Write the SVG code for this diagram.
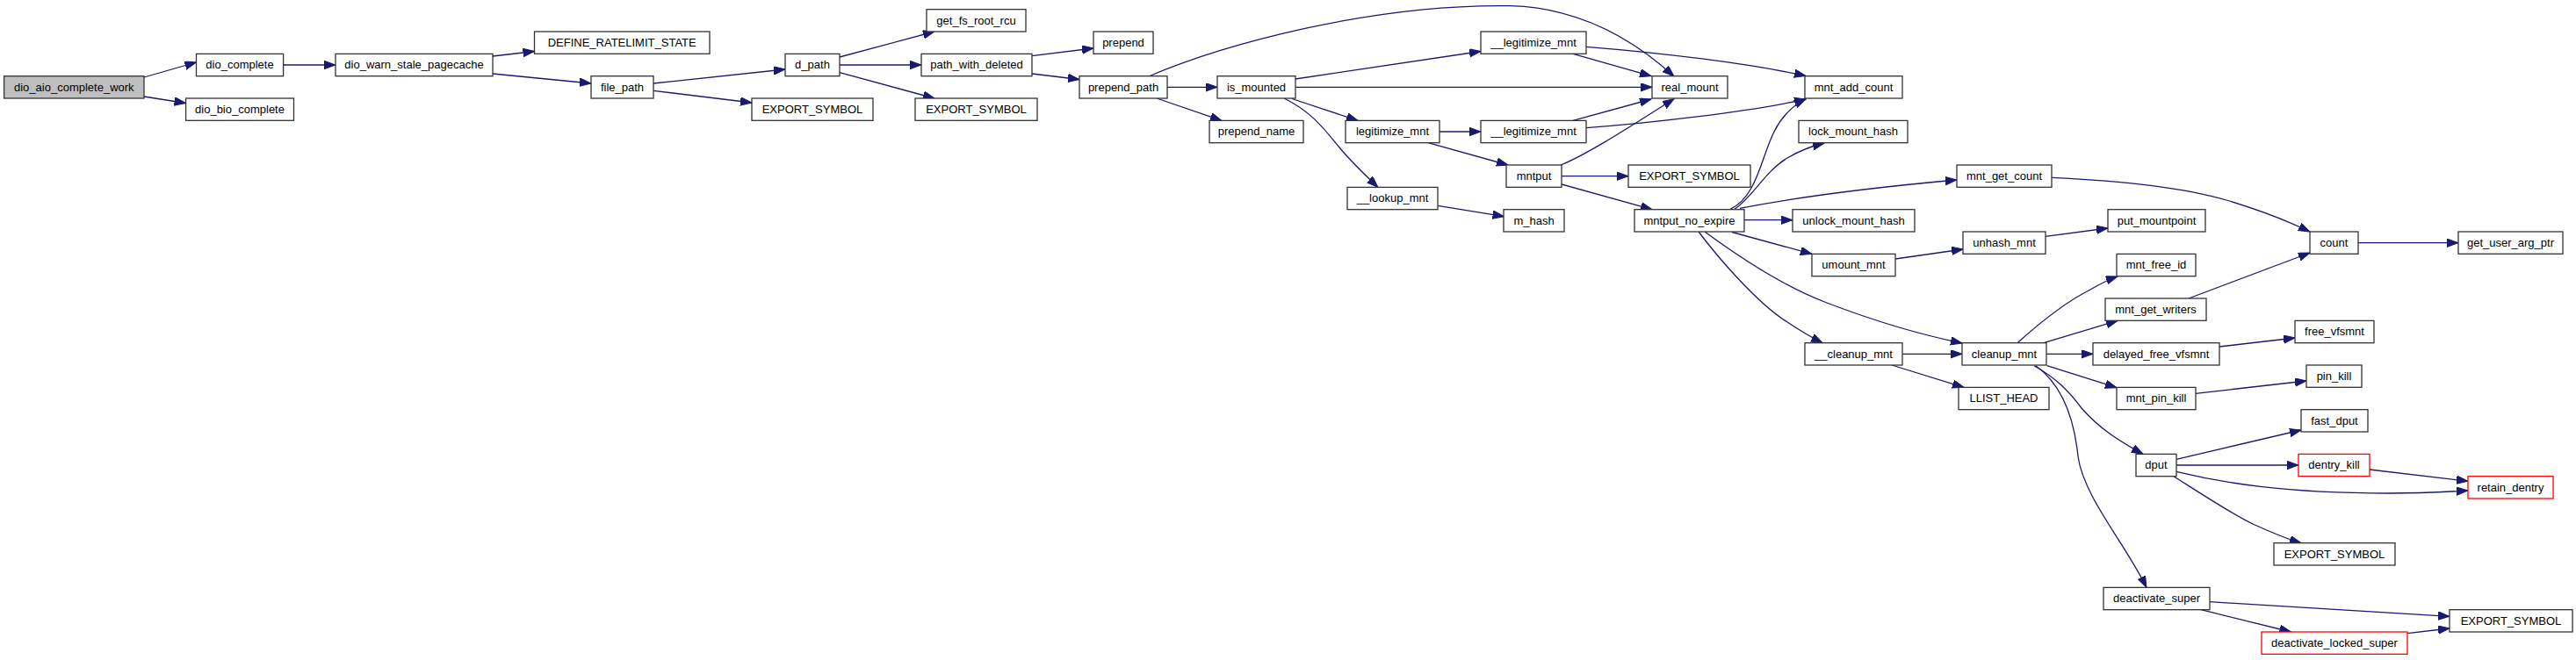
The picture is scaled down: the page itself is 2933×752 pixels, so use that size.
<svg xmlns="http://www.w3.org/2000/svg" width="2933" height="752" viewBox="0 0 2933 752">
<style>
.n rect{fill:#ffffff;stroke:#333333;stroke-width:1.3}
.n.root rect{fill:#bfbfbf}
.n.red rect{stroke:#ff0000}
.n text{font-family:"Liberation Sans",Arial,Helvetica,sans-serif;font-size:13px;fill:#000000;text-anchor:middle}
#edges path{fill:none;stroke:#191970;stroke-width:1.3;marker-end:url(#arr)}
</style>
<defs>
<marker id="arr" markerUnits="userSpaceOnUse" markerWidth="14" markerHeight="10" refX="13" refY="4.7" orient="auto">
<path d="M0,0 L13,4.7 L0,9.4 z" fill="#191970" stroke="#191970" stroke-width="1"/>
</marker>
</defs>
<rect width="2933" height="752" fill="#ffffff"/>
<g id="edges">
<path d="M164,88 L223.5,71"/>
<path d="M164,110 L211.6,117.5"/>
<path d="M322.6,74 L382,74"/>
<path d="M561,64 L608.5,58.5"/>
<path d="M561,84 L673,95"/>
<path d="M744,95 L894,79"/>
<path d="M744,103.3 L856,117"/>
<path d="M956,65 L1064,36"/>
<path d="M956,74 L1049,74"/>
<path d="M956,82.7 L1064,112"/>
<path d="M1175,63.7 L1245,55"/>
<path d="M1175,84 L1229,90.5"/>
<path d="M1308,87 C1390,52 1560,4 1720,6.7 C1800,9 1860,45 1906,87"/>
<path d="M1329,99.3 L1386,99.3"/>
<path d="M1317,112 L1391,137.4"/>
<path d="M1475,90 L1686,58.5"/>
<path d="M1475,99.3 L1881,99.3"/>
<path d="M1471,112.5 L1546,137.4"/>
<path d="M1462,112 C1495,128 1510,150 1525,168 C1540,186 1555,200 1569,213.4"/>
<path d="M1639,150 L1686,150"/>
<path d="M1626,162.7 L1717,188"/>
<path d="M1637,234.3 L1712.5,246.7"/>
<path d="M1791,61.4 L1880,86.7"/>
<path d="M1806,53.3 C1890,60 1990,72 2056,86.5"/>
<path d="M1791,137.4 L1880,113"/>
<path d="M1806,145.7 C1870,141 1990,128 2056,113"/>
<path d="M1777,188 C1810,175 1870,135 1906,112.7"/>
<path d="M1778,200.7 L1854,200.7"/>
<path d="M1778,210 L1881,238.7"/>
<path d="M1970,238.3 C2000,225 2005,180 2020,150 C2030,130 2045,118 2056,113"/>
<path d="M1975,238.3 C1995,225 2010,195 2035,180 C2050,171 2065,166 2077,163"/>
<path d="M1981,237.3 C2060,222 2150,212 2228,205"/>
<path d="M1986,250.7 L2041,250.7"/>
<path d="M1972,264.5 L2063,289.4"/>
<path d="M1934,264 C1955,292 2000,345 2035,367 C2050,377 2062,384 2075,390.7"/>
<path d="M1941,264 C1990,300 2040,330 2080,345 C2140,368 2190,382 2234,391"/>
<path d="M2158,295 L2235,284"/>
<path d="M2329,269.3 L2400,260"/>
<path d="M2336,202.3 C2420,206 2490,215 2535,228 C2575,240 2605,252 2630,264"/>
<path d="M2685,276.7 L2799,276.7"/>
<path d="M2492,340 L2630,288"/>
<path d="M2166,403.3 L2234,403.3"/>
<path d="M2154,416 L2236,441.4"/>
<path d="M2297,390.7 C2320,370 2350,345 2380,330 C2392,323 2402,318 2411,315"/>
<path d="M2327,390.7 L2411,365.4"/>
<path d="M2330,403.3 L2383,403.3"/>
<path d="M2330.7,416.7 L2410,441.7"/>
<path d="M2316,416.7 C2340,430 2355,445 2370,465 C2390,488 2412,502 2440,517.4"/>
<path d="M2318,416.7 C2350,440 2362,480 2366,520 C2372,565 2420,620 2444,669.4"/>
<path d="M2527,395 L2613,385"/>
<path d="M2500,448.3 L2626,434"/>
<path d="M2478,523.3 L2620,490"/>
<path d="M2478,530 L2617,530"/>
<path d="M2478,537.3 C2530,550 2600,562 2720,562 C2760,562 2790,560 2810,559"/>
<path d="M2475,542.7 C2510,565 2545,588 2565,597 C2585,606 2600,613 2620,618.7"/>
<path d="M2698,535 L2810,548.3"/>
<path d="M2516,685.7 L2789,702.3"/>
<path d="M2506,694.7 L2608.5,720"/>
<path d="M2741,721.7 L2789,716"/>
</g>
<g id="n_dio_aio_complete_work" class="n root"><rect x="4.6" y="86.7" width="159.4" height="25.3"/><text x="84.3" y="103.7">dio_aio_complete_work</text></g>
<g id="n_dio_complete" class="n"><rect x="223.5" y="61.4" width="99.1" height="25.3"/><text x="273" y="78.4">dio_complete</text></g>
<g id="n_dio_bio_complete" class="n"><rect x="211.6" y="112" width="122.9" height="25.3"/><text x="273" y="129">dio_bio_complete</text></g>
<g id="n_dio_warn_stale_pagecache" class="n"><rect x="382" y="61.4" width="179" height="25.3"/><text x="471.5" y="78.4">dio_warn_stale_pagecache</text></g>
<g id="n_DEFINE_RATELIMIT_STATE" class="n"><rect x="608.5" y="36" width="199.5" height="25.3"/><text x="708.2" y="53">DEFINE_RATELIMIT_STATE</text></g>
<g id="n_file_path" class="n"><rect x="673" y="86.7" width="71" height="25.3"/><text x="708.5" y="103.7">file_path</text></g>
<g id="n_d_path" class="n"><rect x="894" y="61.4" width="62" height="25.3"/><text x="925" y="78.4">d_path</text></g>
<g id="n_EXPORT_SYMBOL_1" class="n"><rect x="856" y="112" width="138" height="25.3"/><text x="925" y="129">EXPORT_SYMBOL</text></g>
<g id="n_get_fs_root_rcu" class="n"><rect x="1055" y="10.7" width="113" height="25.3"/><text x="1111.5" y="27.7">get_fs_root_rcu</text></g>
<g id="n_path_with_deleted" class="n"><rect x="1049" y="61.4" width="126" height="25.3"/><text x="1112" y="78.4">path_with_deleted</text></g>
<g id="n_EXPORT_SYMBOL_2" class="n"><rect x="1042" y="112" width="139" height="25.3"/><text x="1111.5" y="129">EXPORT_SYMBOL</text></g>
<g id="n_prepend" class="n"><rect x="1245" y="36" width="68" height="25.3"/><text x="1279" y="53">prepend</text></g>
<g id="n_prepend_path" class="n"><rect x="1229" y="86.7" width="100" height="25.3"/><text x="1279" y="103.7">prepend_path</text></g>
<g id="n_is_mounted" class="n"><rect x="1386" y="86.7" width="89" height="25.3"/><text x="1430.5" y="103.7">is_mounted</text></g>
<g id="n_prepend_name" class="n"><rect x="1377" y="137.4" width="107" height="25.3"/><text x="1430.5" y="154.4">prepend_name</text></g>
<g id="n___legitimize_mnt_1" class="n"><rect x="1686" y="36" width="120" height="25.3"/><text x="1746" y="53">__legitimize_mnt</text></g>
<g id="n_legitimize_mnt" class="n"><rect x="1532" y="137.4" width="107" height="25.3"/><text x="1585.5" y="154.4">legitimize_mnt</text></g>
<g id="n___legitimize_mnt_2" class="n"><rect x="1686" y="137.4" width="120" height="25.3"/><text x="1746" y="154.4">__legitimize_mnt</text></g>
<g id="n_mntput" class="n"><rect x="1715" y="188" width="63" height="25.3"/><text x="1746.5" y="205">mntput</text></g>
<g id="n___lookup_mnt" class="n"><rect x="1534" y="213.4" width="103" height="25.3"/><text x="1585.5" y="230.4">__lookup_mnt</text></g>
<g id="n_m_hash" class="n"><rect x="1712" y="238.7" width="69" height="25.3"/><text x="1746.5" y="255.7">m_hash</text></g>
<g id="n_real_mount" class="n"><rect x="1881" y="86.7" width="86" height="25.3"/><text x="1924" y="103.7">real_mount</text></g>
<g id="n_mnt_add_count" class="n"><rect x="2055" y="86.7" width="111" height="25.3"/><text x="2110.5" y="103.7">mnt_add_count</text></g>
<g id="n_lock_mount_hash" class="n"><rect x="2048" y="137.4" width="124" height="25.3"/><text x="2110" y="154.4">lock_mount_hash</text></g>
<g id="n_EXPORT_SYMBOL_3" class="n"><rect x="1854" y="188" width="139" height="25.3"/><text x="1923.5" y="205">EXPORT_SYMBOL</text></g>
<g id="n_mntput_no_expire" class="n"><rect x="1861" y="238.7" width="125" height="25.3"/><text x="1923.5" y="255.7">mntput_no_expire</text></g>
<g id="n_mnt_get_count" class="n"><rect x="2228" y="188" width="108" height="25.3"/><text x="2282" y="205">mnt_get_count</text></g>
<g id="n_unlock_mount_hash" class="n"><rect x="2041" y="238.7" width="139" height="25.3"/><text x="2110.5" y="255.7">unlock_mount_hash</text></g>
<g id="n_umount_mnt" class="n"><rect x="2063" y="289.4" width="95" height="25.3"/><text x="2110.5" y="306.4">umount_mnt</text></g>
<g id="n_unhash_mnt" class="n"><rect x="2235" y="264" width="94" height="25.3"/><text x="2282" y="281">unhash_mnt</text></g>
<g id="n_put_mountpoint" class="n"><rect x="2400" y="238.7" width="111" height="25.3"/><text x="2455.5" y="255.7">put_mountpoint</text></g>
<g id="n_count" class="n"><rect x="2630" y="264" width="55" height="25.3"/><text x="2657.5" y="281">count</text></g>
<g id="n_get_user_arg_ptr" class="n"><rect x="2799" y="264" width="119" height="25.3"/><text x="2858.5" y="281">get_user_arg_ptr</text></g>
<g id="n___cleanup_mnt" class="n"><rect x="2055" y="390.7" width="111" height="25.3"/><text x="2110.5" y="407.7">__cleanup_mnt</text></g>
<g id="n_cleanup_mnt" class="n"><rect x="2234" y="390.7" width="96" height="25.3"/><text x="2282" y="407.7">cleanup_mnt</text></g>
<g id="n_LLIST_HEAD" class="n"><rect x="2230" y="441.4" width="103" height="25.3"/><text x="2281.5" y="458.4">LLIST_HEAD</text></g>
<g id="n_mnt_free_id" class="n"><rect x="2410" y="289.4" width="90" height="25.3"/><text x="2455" y="306.4">mnt_free_id</text></g>
<g id="n_mnt_get_writers" class="n"><rect x="2397" y="340" width="115" height="25.3"/><text x="2454.5" y="357">mnt_get_writers</text></g>
<g id="n_delayed_free_vfsmnt" class="n"><rect x="2383" y="390.7" width="144" height="25.3"/><text x="2455" y="407.7">delayed_free_vfsmnt</text></g>
<g id="n_free_vfsmnt" class="n"><rect x="2613" y="365.4" width="90" height="25.3"/><text x="2658" y="382.4">free_vfsmnt</text></g>
<g id="n_mnt_pin_kill" class="n"><rect x="2410" y="441.4" width="90" height="25.3"/><text x="2455" y="458.4">mnt_pin_kill</text></g>
<g id="n_pin_kill" class="n"><rect x="2626" y="416" width="63" height="25.3"/><text x="2657.5" y="433">pin_kill</text></g>
<g id="n_fast_dput" class="n"><rect x="2620" y="466.7" width="76" height="25.3"/><text x="2658" y="483.7">fast_dput</text></g>
<g id="n_dput" class="n"><rect x="2432" y="517.4" width="46" height="25.3"/><text x="2455" y="534.4">dput</text></g>
<g id="n_dentry_kill" class="n red"><rect x="2617" y="517.4" width="81" height="25.3"/><text x="2657.5" y="534.4">dentry_kill</text></g>
<g id="n_retain_dentry" class="n red"><rect x="2810" y="542.7" width="97" height="25.3"/><text x="2858.5" y="559.7">retain_dentry</text></g>
<g id="n_EXPORT_SYMBOL_4" class="n"><rect x="2589" y="618.7" width="138" height="25.3"/><text x="2658" y="635.7">EXPORT_SYMBOL</text></g>
<g id="n_deactivate_super" class="n"><rect x="2395" y="669.4" width="121" height="25.3"/><text x="2455.5" y="686.4">deactivate_super</text></g>
<g id="n_EXPORT_SYMBOL_5" class="n"><rect x="2789" y="694.7" width="140" height="25.3"/><text x="2859" y="711.7">EXPORT_SYMBOL</text></g>
<g id="n_deactivate_locked_super" class="n red"><rect x="2575" y="720" width="166" height="25.3"/><text x="2658" y="737">deactivate_locked_super</text></g>
</svg>
